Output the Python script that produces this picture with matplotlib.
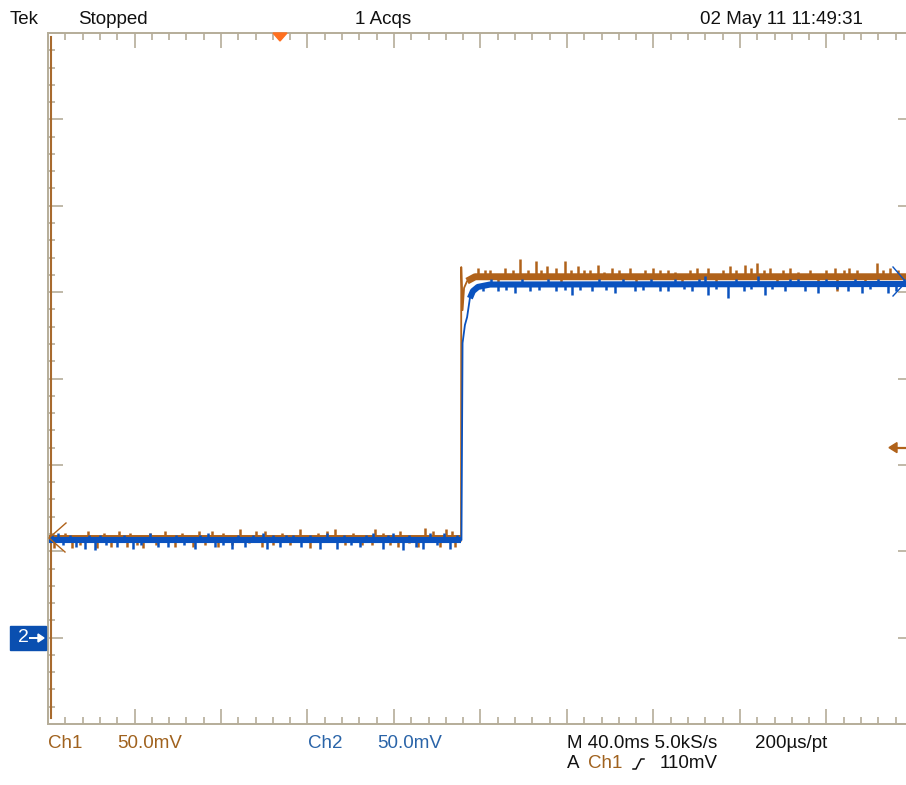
import numpy as np
import matplotlib
matplotlib.use("Agg")
import matplotlib.pyplot as plt
from matplotlib import font_manager
from matplotlib.patches import Rectangle, Polygon
from matplotlib.lines import Line2D

# scope settings
T_DIV = 40.0      # ms / div
MV_DIV = 50.0     # mV / div, both channels
GND_DIV = -3.0    # ground marker of ch1 and ch2 (divisions from centre)
TRIG_MV = 110.0

# ch1 (brown) step, time in ms, level in mV
ch1_t = [0.0, 191.0, 191.1, 191.7, 192.4, 193.8, 197.5, 400.0]
ch1_mv = [57.7, 57.7, 214.5, 189.6, 202.4, 206.4, 208.9, 208.9]

# ch2 (blue) step
ch2_t = [0.0, 191.2, 191.7, 192.8, 193.8, 195.1, 196.5, 198.8, 204.4, 400.0]
ch2_mv = [56.5, 56.5, 170.5, 181.0, 185.5, 196.5, 200.6, 203.0, 204.4, 204.7]

# noise spikes on each trace: time (ms), excursion from the trace (mV)
ch1_spike_t = [3, 8, 11, 15, 18.5, 22.7, 26, 29, 33, 36.5, 38, 41, 44, 47, 50,
               54, 58.7, 62, 67, 70, 72.6, 75.8, 78.6, 81, 85, 89, 93, 96, 99,
               100.3, 104, 108, 112, 116.5, 121, 125, 129, 132.7, 137.3, 141,
               145, 149.8, 151.2, 155, 158, 161.8, 163, 167, 171, 174.3, 178,
               181.3, 184, 186.8, 188.2,
               199, 202, 204.4, 208, 211.3, 215, 218.2, 222, 225.7, 228, 230.8,
               234.9, 237, 239.1, 242, 245.1, 248, 250.6, 254.3, 257, 260.8,
               264, 269.1, 272, 276, 279.8, 283, 286.7, 290, 293, 296.9, 300,
               305.2, 309, 312, 315.3, 318, 322.3, 325, 327.8, 331, 333.8, 337,
               340, 343.1, 347, 352.3, 356, 360, 363.9, 364.8, 368, 370.6, 374,
               378, 383.3, 386, 389.3, 393, 397]
ch1_spike_mv = [-6, 3, -6, -4, 4, -6, 3, -5, 4, -5, 3, -4, -6, 3, -4,
                4, -5, 3, -5, 4, -4, 4, -5, 3, -4, 5, -3, 4, -5,
                4, -4, 3, -4, 5, -6, 3, 4, 5, -4, 3,
                -4, -4, 5, 3, -4, -5, 4, -3, -5, 6, 4,
                -5, 5, 4, -5,
                5, 4, 4, -3, 5, 4, 10, 4, 9, 4, 6,
                5, -3, 9, 4, 6, 4, 4, 7, 3, 5,
                4, 5, -4, 4, 5, 4, 4, 3, -4, 4, 5,
                5, -3, 4, 6, 4, 7, 5, 8, 4, 5, -4,
                4, 5, 3, 4, -3, 4, 5, -8, 4, 5, 4,
                -3, 8, 4, 5, 4, 5]

ch2_spike_t = [2, 4.6, 7, 10.2, 13, 17.1, 19, 21.7, 24, 27, 31.9, 35, 39.3, 43,
               47.2, 51, 55.5, 59, 63, 68, 70.3, 74, 77.2, 81, 85.1, 88, 91.1,
               95, 99.4, 101.3, 104, 107.3, 110, 113.3, 117, 121, 125.8, 129,
               133.6, 137, 140, 144.3, 147, 150.3, 154.9, 157, 159.5, 164.2,
               167, 170, 173.4, 176.6, 180, 183, 185.9, 189,
               201, 205, 208, 212, 215.9, 219, 223, 227, 231, 235, 239, 242.3,
               246, 251.5, 255, 258, 262.2, 266, 271.4, 275, 279, 283, 286.7,
               290, 294, 298, 301, 303.8, 305.2, 309, 314.4, 318, 322, 325,
               328.3, 331.5, 335, 340.8, 343, 346.8, 350, 356.1, 360, 365, 370,
               373, 376.4, 380, 384, 388.4, 392, 396]
ch2_spike_mv = [3, 4, -3, 3, -4, -5, 3, -6, 3, -3, -4, 3, -5, -3,
                4, -4, -4, 3, -3, -5, 3, 4, -4, -3, -5, 3, -4,
                3, 4, -5, 3, -4, 3, 3, -4, 3, -5, 4,
                -5, 3, -3, -4, 3, 4, -5, 3, 4, -6,
                3, -4, -5, 4, -3, 4, -5, 3,
                -3, 3, -4, -3, -5, 3, -4, -3, 3, -4, -3, -6,
                -3, -4, 3, -3, -5, 3, -4, -3, 3, -4, -4,
                3, -3, -4, 3, 5, -6, -3, -8, 3, -4, -3,
                5, -6, -3, -4, 3, 3, -4, -5, 3, -3, -4,
                3, -5, -3, 3, -5, -4, 3]

BROWN = "#b0621a"
BLUE = "#0a52bf"
FRAME = "#b5ad99"
TXT_BROWN = "#a0621e"
TXT_BLUE = "#2a64a8"

names = {f.name for f in font_manager.fontManager.ttflist}
FONT = "Liberation Sans Narrow" if "Liberation Sans Narrow" in names else "Liberation Sans"
plt.rcParams["font.family"] = [FONT, "DejaVu Sans"]

W, H = 906, 785
fig = plt.figure(figsize=(W / 100, H / 100), dpi=100)
fig.patch.set_facecolor("white")


def fx(x):
    return x / W


def fy(y):
    return 1 - y / H


# graticule: 10 x 8 divisions, right edge falls just off the screen
x0, x1, y0, y1 = 48, 913, 33, 724
ax = fig.add_axes([fx(x0), fy(y1), fx(x1) - fx(x0), fy(y0) - fy(y1)])
ax.set_xlim(0, 10 * T_DIV)
ax.set_ylim(-4, 4)
ax.set_xticks(np.arange(0, 10 * T_DIV + 1, T_DIV))
ax.set_xticks(np.arange(0, 10 * T_DIV + 1, T_DIV / 5), minor=True)
ax.set_yticks(np.arange(-4, 5, 1))
ax.set_yticks(np.arange(-4, 4.01, 0.2), minor=True)
ax.tick_params(which="both", direction="in", top=True, right=True,
               labelbottom=False, labelleft=False, color=FRAME, width=1.2)
ax.tick_params(which="major", length=11)
ax.tick_params(which="minor", length=5)
for s in ax.spines.values():
    s.set_color(FRAME)
    s.set_linewidth(1.4)


def to_div(mv):
    return GND_DIV + np.asarray(mv) / MV_DIV


# brown marker line just inside the left edge
ax.plot([1.4, 1.4], [3.95, -3.93], color="#a86a2e", lw=1.5)

# traces: thin vector for the edge, thick band where the signal sits flat
for t, mv, st, smv, col, settle, band in [
        (ch1_t, ch1_mv, ch1_spike_t, ch1_spike_mv, BROWN, 5, 5.0),
        (ch2_t, ch2_mv, ch2_spike_t, ch2_spike_mv, BLUE, 5, 4.4)]:
    ax.plot(t, to_div(mv), color=col, lw=1.3)
    ax.plot(t[:2], to_div(mv[:2]), color=col, lw=band, solid_capstyle="butt")
    ax.plot(t[settle:], to_div(mv[settle:]), color=col, lw=band,
            solid_capstyle="butt", solid_joinstyle="round")
    base = np.interp(st, t, mv)
    ax.vlines(st, to_div(base), to_div(base + np.asarray(smv)), color=col, lw=1.8)

# "<" level indicator at left, ">" at right
fig.add_artist(Line2D([fx(66), fx(49), fx(65)], [fy(523), fy(538), fy(552)],
                      color=BROWN, lw=1.0))
fig.add_artist(Line2D([fx(893), fx(906), fx(893)], [fy(267), fy(282), fy(296)],
                      color=BLUE, lw=1.0))

# trigger level arrow on the right
trig_div = GND_DIV + TRIG_MV / MV_DIV
ty = fy(378.5 - trig_div * 86.4)
fig.add_artist(Line2D([fx(893), fx(906)], [ty, ty], color=BROWN, lw=1.6))
fig.add_artist(Polygon([[fx(889), ty], [fx(897), ty + 5 / H], [fx(897), ty - 5 / H]],
                       closed=True, color=BROWN))

# trigger position marker at top
fig.add_artist(Polygon([[fx(273), fy(33)], [fx(287), fy(33)], [fx(280), fy(41)]],
                       closed=True, color="#ff7020"))

# ch2 ground marker box
fig.add_artist(Rectangle((fx(10), fy(650)), fx(46) - fx(10), fy(626) - fy(650),
                         color="#0a4fb0"))
fig.text(fx(23), fy(638), "2", color="white", fontsize=14, ha="center", va="center")
fig.add_artist(Line2D([fx(30), fx(42)], [fy(638), fy(638)], color="white", lw=1.4))
fig.add_artist(Polygon([[fx(44), fy(638)], [fx(38), fy(634)], [fx(38), fy(642)]],
                       closed=True, color="white"))

# header
fs = 13.5
fig.text(fx(10), fy(19), "Tek", fontsize=fs, va="center", color="#111111")
fig.text(fx(78), fy(19), "Stopped", fontsize=fs, va="center", color="#111111")
fig.text(fx(355), fy(19), "1 Acqs", fontsize=fs, va="center", color="#111111")
fig.text(fx(700), fy(19), "02 May 11 11:49:31", fontsize=fs, va="center", color="#111111")

# channel / timebase readout
fig.text(fx(48), fy(743), "Ch1", fontsize=fs, va="center", color=TXT_BROWN)
fig.text(fx(117), fy(743), "50.0mV", fontsize=fs, va="center", color=TXT_BROWN)
fig.text(fx(308), fy(743), "Ch2", fontsize=fs, va="center", color=TXT_BLUE)
fig.text(fx(377), fy(743), "50.0mV", fontsize=fs, va="center", color=TXT_BLUE)
fig.text(fx(567), fy(743), "M 40.0ms 5.0kS/s", fontsize=fs, va="center", color="#111111")
fig.text(fx(755), fy(743), "200\u00b5s/pt", fontsize=fs, va="center", color="#111111")
fig.text(fx(567), fy(764), "A", fontsize=fs, va="center", color="#111111")
fig.text(fx(588), fy(764), "Ch1", fontsize=fs, va="center", color=TXT_BROWN)
fig.add_artist(Line2D([fx(633), fx(636), fx(641), fx(644)],
                      [fy(769), fy(769), fy(759), fy(759)], color="#111111", lw=1.1))
fig.text(fx(660), fy(764), "110mV", fontsize=fs, va="center", color="#111111")

fig.savefig("out.png", dpi=100, facecolor="white")
